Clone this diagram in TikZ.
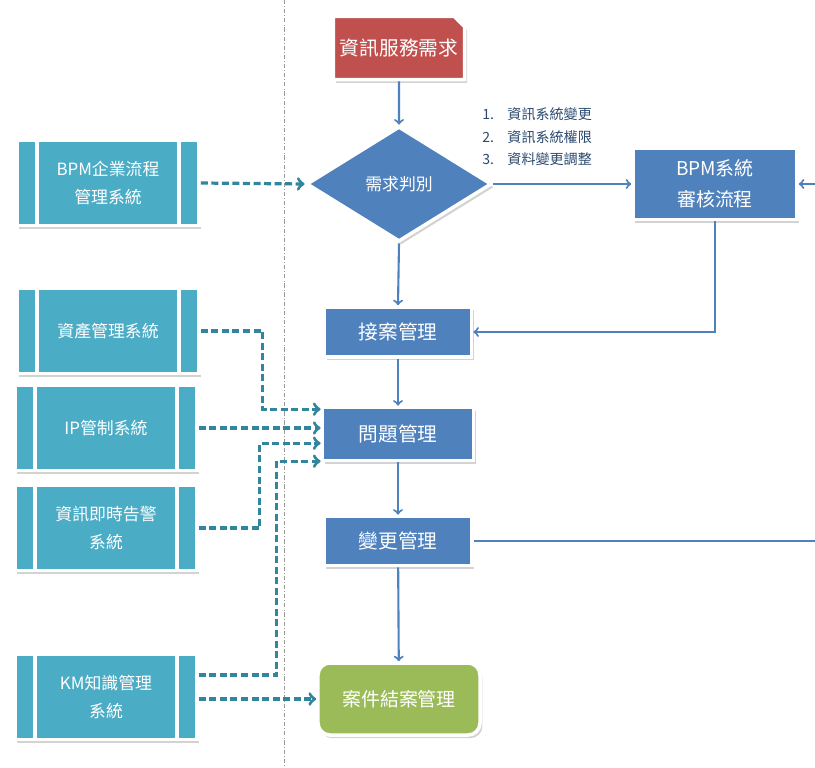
\documentclass[tikz,border=0pt]{standalone}
\usepackage{fontspec}
\setmainfont{Noto Sans CJK TC}
\definecolor{reqred}{HTML}{C0504D}
\definecolor{procblue}{HTML}{4F81BD}
\definecolor{systeal}{HTML}{4BACC6}
\definecolor{donegreen}{HTML}{9BBB59}
\definecolor{linkteal}{HTML}{31859C}
\definecolor{notenavy}{HTML}{2B4A6F}
\definecolor{rulegrey}{HTML}{9A9A9A}
\usepackage{tikz}
\usetikzlibrary{arrows}
\usetikzlibrary{shapes.geometric}
\usetikzlibrary{shapes.misc}
\usetikzlibrary{shadows}
\tikzstyle{base}=[draw=white, line width=2.5pt, text=white, inner sep=0pt, align=center,
    drop shadow={opacity=0.35, shadow xshift=0.06cm, shadow yshift=-0.08cm}]
\tikzstyle{stepbox}=[base, fill=procblue, font=\fontsize{14}{22}\selectfont]
\tikzstyle{sysbox}=[base, fill=systeal, minimum width=4.55cm, minimum height=2.12cm, font=\fontsize{12}{20}\selectfont]
\tikzstyle{flow}=[procblue, line width=1.5pt, -to]
\tikzstyle{link}=[linkteal, line width=2.3pt, dash pattern=on 5pt off 2.5pt, -to]

\begin{document}
\begin{tikzpicture}[x=0.025cm, y=-0.025cm]
    \path [use as bounding box] (0,0) rectangle (815,768);
    \draw [rulegrey, line width=0.5pt, dash pattern=on 3pt off 1.5pt on 0.5pt off 1.5pt] (284,0) -- (284,768);

    % main flow
    \node [base, fill=reqred, chamfered rectangle, chamfered rectangle corners=north east,
        chamfered rectangle xsep=0.13cm, chamfered rectangle ysep=0.13cm,
        minimum width=3.28cm, minimum height=1.58cm, font=\fontsize{14}{22}\selectfont] (need) at (399,48) {資訊服務需求};
    \node [base, fill=procblue, diamond, aspect=1.6, minimum width=4.63cm, minimum height=2.88cm,
        font=\fontsize{12}{20}\selectfont] (judge) at (399,184) {需求判別};
    \node [stepbox, minimum width=4.1cm, minimum height=1.78cm, font=\fontsize{13.5}{22}\selectfont] (bpmchk) at (715,184) {BPM系統\\審核流程};
    \node [stepbox, minimum width=3.68cm, minimum height=1.25cm] (accept) at (398,332) {接案管理};
    \node [stepbox, minimum width=3.78cm, minimum height=1.33cm] (issue) at (398,434) {問題管理};
    \node [stepbox, minimum width=3.7cm, minimum height=1.23cm] (change) at (398,541) {變更管理};
    \node [base, fill=donegreen, rounded corners=0.3cm, minimum width=4.05cm, minimum height=1.8cm,
        font=\fontsize{13.5}{22}\selectfont] (close) at (399,699) {案件結案管理};
    \node [notenavy, anchor=west, align=left, inner sep=0pt, font=\fontsize{10}{16}\selectfont] (types) at (482,137)
        {\makebox[0.63cm][l]{1.}資訊系統變更\\\makebox[0.63cm][l]{2.}資訊系統權限\\\makebox[0.63cm][l]{3.}資料變更調整};

    % systems
    \node [sysbox] (bpmsys) at (108,183) {BPM企業流程\\管理系統};
    \node [sysbox] (asset) at (108,331) {資產管理系統};
    \node [sysbox] (ipctl) at (106,428) {IP管制系統};
    \node [sysbox] (alert) at (106,528) {資訊即時告警\\系統};
    \node [sysbox] (km) at (106,697) {KM知識管理\\系統};
    \foreach \n in {bpmsys,asset,ipctl,alert,km} {
        \draw [white, line width=2.5pt] ([xshift=0.55cm]\n.north west) -- ([xshift=0.55cm]\n.south west);
        \draw [white, line width=2.5pt] ([xshift=-0.55cm]\n.north east) -- ([xshift=-0.55cm]\n.south east);
    }

    \coordinate (rin) at (815,184);
    \coordinate (rout) at (815,541);

    \draw [flow] (need) -- (judge);
    \draw [flow] (judge.east) -- (bpmchk.west);
    \draw [flow] (rin) -- (bpmchk.east);
    \draw [flow] (bpmchk.south) |- (accept.east);
    \draw [flow] (judge.south) -- (accept.north);
    \draw [flow] (accept) -- (issue);
    \draw [flow] (issue) -- (change);
    \draw [flow] (change) -- (close);
    \draw [procblue, line width=1.5pt] (change.east) -- (rout);

    \draw [link] (bpmsys.east) -- (judge.west);
    \draw [link] (asset.east) -- ++(62,0) |- ([yshift=0.62cm]issue.west);
    \draw [link] (ipctl.east) -- (ipctl.east -| issue.west);
    \draw [link] (alert.east) -- ++(61,0) |- ([yshift=-0.23cm]issue.west);
    \draw [link] ([yshift=0.55cm]km.east) -- ++(78,0) |- ([yshift=-0.68cm]issue.west);
    \draw [link] ([yshift=-0.05cm]km.east) -- ([yshift=-0.05cm]km.east -| close.west);
\end{tikzpicture}
\end{document}
